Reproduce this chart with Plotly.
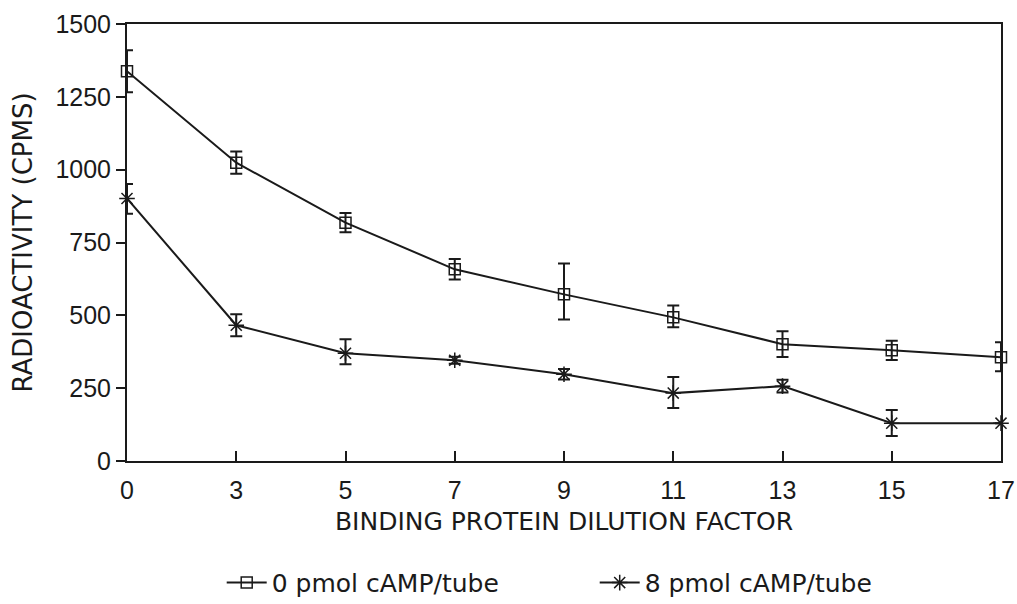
import plotly.graph_objects as go

dilution = ["0", "3", "5", "7", "9", "11", "13", "15", "17"]

cpm_0pmol = [1338, 1024, 818, 658, 572, 493, 401, 380, 356]
err_0pmol_up = [72, 38, 33, 35, 106, 41, 44, 33, 52]
err_0pmol_down = [72, 38, 33, 35, 86, 34, 44, 33, 48]

cpm_8pmol = [901, 466, 370, 346, 298, 233, 257, 130, 130]
err_8pmol_up = [50, 38, 48, 12, 18, 55, 22, 45, 0]
err_8pmol_down = [52, 38, 38, 12, 18, 51, 22, 44, 0]

NUM_FONT = "Liberation Sans, Arial, sans-serif"
TXT_FONT = "DejaVu Sans, Verdana, sans-serif"
INK = "#1a1a1a"

fig = go.Figure()
fig.add_trace(go.Scatter(
    x=dilution, y=cpm_0pmol, mode="lines+markers", name="0 pmol cAMP/tube",
    line=dict(color=INK, width=2),
    marker=dict(symbol="square-open", size=11, color=INK, line=dict(width=1.5)),
    error_y=dict(type="data", symmetric=False, array=err_0pmol_up, arrayminus=err_0pmol_down,
                 color=INK, thickness=2, width=6),
    cliponaxis=False,
))
fig.add_trace(go.Scatter(
    x=dilution, y=cpm_8pmol, mode="lines+markers", name="8 pmol cAMP/tube",
    line=dict(color=INK, width=2),
    marker=dict(symbol="asterisk-open", size=13, color=INK, line=dict(width=1.5, color=INK)),
    error_y=dict(type="data", symmetric=False, array=err_8pmol_up, arrayminus=err_8pmol_down,
                 color=INK, thickness=2, width=6),
    cliponaxis=False,
))

fig.update_layout(
    width=1017, height=604,
    margin=dict(l=127, r=16, t=24, b=143, autoexpand=False),
    paper_bgcolor="white", plot_bgcolor="white",
    font=dict(family=TXT_FONT, color=INK, size=22),
    showlegend=True,
    legend=dict(orientation="h", xref="container", x=0.218, xanchor="left",
                yref="container", y=0.035, yanchor="middle",
                font=dict(size=25, family=TXT_FONT, color=INK), itemwidth=40,
                entrywidth=318, entrywidthmode="pixels",
                bgcolor="rgba(0,0,0,0)"),
)
fig.update_xaxes(
    type="category", range=[0, 8], automargin=False,
    showline=True, linecolor=INK, linewidth=2, mirror=True,
    ticks="inside", ticklen=10, tickwidth=1.5, tickcolor=INK,
    showgrid=False, zeroline=False,
    tickfont=dict(size=25, family=NUM_FONT, color=INK),
    ticklabelstandoff=6,
    title=dict(text="BINDING PROTEIN DILUTION FACTOR", font=dict(size=25, family=TXT_FONT, color=INK), standoff=9),
)
fig.update_yaxes(
    range=[0, 1500], tickvals=[0, 250, 500, 750, 1000, 1250, 1500], automargin=False,
    showline=True, linecolor=INK, linewidth=2, mirror=True,
    ticks="outside", ticklen=9, tickwidth=1.5, tickcolor=INK,
    showgrid=False, zeroline=False,
    tickfont=dict(size=25, family=NUM_FONT, color=INK),
    title=dict(text="RADIOACTIVITY (CPMS)", font=dict(size=26, family=TXT_FONT, color=INK), standoff=15),
)

fig.write_html("out.html")
